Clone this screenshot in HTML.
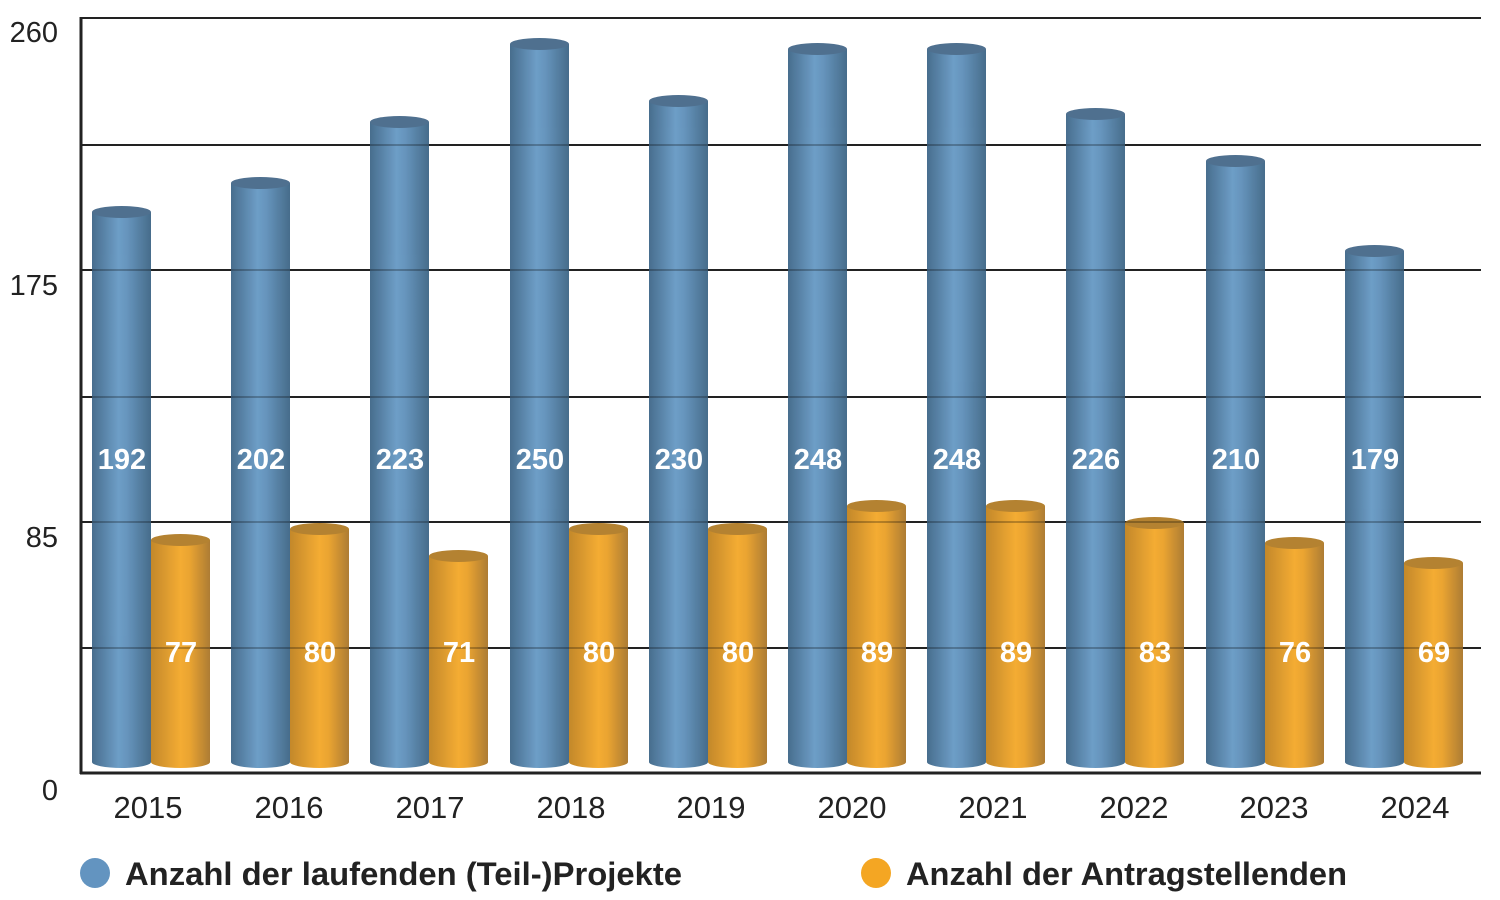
<!DOCTYPE html>
<html><head><meta charset="utf-8"><style>
html,body{margin:0;padding:0;background:#fff}
svg{display:block}
text{font-family:"Liberation Sans",sans-serif}
</style></head><body>
<svg width="1500" height="900" viewBox="0 0 1500 900">
<defs>
<linearGradient id="gb" x1="0" x2="1" y1="0" y2="0">
<stop offset="0" stop-color="#3e6688"/><stop offset="0.45" stop-color="#6699c4"/><stop offset="0.6" stop-color="#5e8fb9"/><stop offset="1" stop-color="#3d6585"/></linearGradient>
<linearGradient id="go" x1="0" x2="1" y1="0" y2="0">
<stop offset="0" stop-color="#c0821f"/><stop offset="0.5" stop-color="#f4a829"/><stop offset="0.65" stop-color="#eaa027"/><stop offset="1" stop-color="#a9762a"/></linearGradient>
</defs>
<g stroke="#222" stroke-width="2">
<line x1="80" y1="18" x2="1481" y2="18"/>
<line x1="80" y1="145" x2="1481" y2="145"/>
<line x1="80" y1="270" x2="1481" y2="270"/>
<line x1="80" y1="397" x2="1481" y2="397"/>
<line x1="80" y1="522" x2="1481" y2="522"/>
<line x1="80" y1="648" x2="1481" y2="648"/>
</g>
<g opacity="0.95">
<g fill="url(#gb)">
<rect x="92" y="212" width="59" height="550"/><rect x="231" y="183" width="59" height="579"/><rect x="370" y="122" width="59" height="640"/><rect x="510" y="44" width="59" height="718"/><rect x="649" y="101" width="59" height="661"/><rect x="788" y="49" width="59" height="713"/><rect x="927" y="49" width="59" height="713"/><rect x="1066" y="114" width="59" height="648"/><rect x="1206" y="161" width="59" height="601"/><rect x="1345" y="251" width="59" height="511"/>
<ellipse cx="121.5" cy="762" rx="29.5" ry="6"/><ellipse cx="260.5" cy="762" rx="29.5" ry="6"/><ellipse cx="399.5" cy="762" rx="29.5" ry="6"/><ellipse cx="539.5" cy="762" rx="29.5" ry="6"/><ellipse cx="678.5" cy="762" rx="29.5" ry="6"/><ellipse cx="817.5" cy="762" rx="29.5" ry="6"/><ellipse cx="956.5" cy="762" rx="29.5" ry="6"/><ellipse cx="1095.5" cy="762" rx="29.5" ry="6"/><ellipse cx="1235.5" cy="762" rx="29.5" ry="6"/><ellipse cx="1374.5" cy="762" rx="29.5" ry="6"/>
</g>
<g fill="#46698a">
<ellipse cx="121.5" cy="212" rx="29.5" ry="6"/><ellipse cx="260.5" cy="183" rx="29.5" ry="6"/><ellipse cx="399.5" cy="122" rx="29.5" ry="6"/><ellipse cx="539.5" cy="44" rx="29.5" ry="6"/><ellipse cx="678.5" cy="101" rx="29.5" ry="6"/><ellipse cx="817.5" cy="49" rx="29.5" ry="6"/><ellipse cx="956.5" cy="49" rx="29.5" ry="6"/><ellipse cx="1095.5" cy="114" rx="29.5" ry="6"/><ellipse cx="1235.5" cy="161" rx="29.5" ry="6"/><ellipse cx="1374.5" cy="251" rx="29.5" ry="6"/>
</g>
<g fill="url(#go)">
<rect x="151" y="540" width="59" height="222"/><rect x="290" y="529" width="59" height="233"/><rect x="429" y="556" width="59" height="206"/><rect x="569" y="529" width="59" height="233"/><rect x="708" y="529" width="59" height="233"/><rect x="847" y="506" width="59" height="256"/><rect x="986" y="506" width="59" height="256"/><rect x="1125" y="523" width="59" height="239"/><rect x="1265" y="543" width="59" height="219"/><rect x="1404" y="563" width="59" height="199"/>
<ellipse cx="180.5" cy="762" rx="29.5" ry="6"/><ellipse cx="319.5" cy="762" rx="29.5" ry="6"/><ellipse cx="458.5" cy="762" rx="29.5" ry="6"/><ellipse cx="598.5" cy="762" rx="29.5" ry="6"/><ellipse cx="737.5" cy="762" rx="29.5" ry="6"/><ellipse cx="876.5" cy="762" rx="29.5" ry="6"/><ellipse cx="1015.5" cy="762" rx="29.5" ry="6"/><ellipse cx="1154.5" cy="762" rx="29.5" ry="6"/><ellipse cx="1294.5" cy="762" rx="29.5" ry="6"/><ellipse cx="1433.5" cy="762" rx="29.5" ry="6"/>
</g>
<g fill="#b07c26">
<ellipse cx="180.5" cy="540" rx="29.5" ry="6"/><ellipse cx="319.5" cy="529" rx="29.5" ry="6"/><ellipse cx="458.5" cy="556" rx="29.5" ry="6"/><ellipse cx="598.5" cy="529" rx="29.5" ry="6"/><ellipse cx="737.5" cy="529" rx="29.5" ry="6"/><ellipse cx="876.5" cy="506" rx="29.5" ry="6"/><ellipse cx="1015.5" cy="506" rx="29.5" ry="6"/><ellipse cx="1154.5" cy="523" rx="29.5" ry="6"/><ellipse cx="1294.5" cy="543" rx="29.5" ry="6"/><ellipse cx="1433.5" cy="563" rx="29.5" ry="6"/>
</g>
</g>
<g stroke="#222" stroke-width="2" opacity="0.25">
<line x1="80" y1="522" x2="1481" y2="522"/><line x1="80" y1="648" x2="1481" y2="648"/><line x1="80" y1="397" x2="1481" y2="397"/><line x1="80" y1="270" x2="1481" y2="270"/><line x1="80" y1="145" x2="1481" y2="145"/>
</g>
<g stroke="#222" stroke-width="3">
<line x1="81" y1="17" x2="81" y2="774"/>
<line x1="80" y1="773" x2="1481" y2="773"/>
</g>
<g fill="#fff" font-weight="bold" font-size="29" text-anchor="middle">
<text x="122" y="469">192</text><text x="261" y="469">202</text><text x="400" y="469">223</text><text x="540" y="469">250</text><text x="679" y="469">230</text><text x="818" y="469">248</text><text x="957" y="469">248</text><text x="1096" y="469">226</text><text x="1236" y="469">210</text><text x="1375" y="469">179</text>
<text x="181" y="662">77</text><text x="320" y="662">80</text><text x="459" y="662">71</text><text x="599" y="662">80</text><text x="738" y="662">80</text><text x="877" y="662">89</text><text x="1016" y="662">89</text><text x="1155" y="662">83</text><text x="1295" y="662">76</text><text x="1434" y="662">69</text>
</g>
<g fill="#222" font-size="29" text-anchor="end">
<text x="58" y="42">260</text><text x="58" y="295">175</text><text x="58" y="547">85</text><text x="58" y="800">0</text>
</g>
<g fill="#222" font-size="31" text-anchor="middle">
<text x="148" y="818">2015</text><text x="289" y="818">2016</text><text x="430" y="818">2017</text><text x="571" y="818">2018</text><text x="711" y="818">2019</text><text x="852" y="818">2020</text><text x="993" y="818">2021</text><text x="1134" y="818">2022</text><text x="1274" y="818">2023</text><text x="1415" y="818">2024</text>
</g>
<circle cx="95" cy="873" r="15" fill="#6394c0"/>
<circle cx="876" cy="873" r="15" fill="#f4a623"/>
<g fill="#222" font-size="32" font-weight="bold">
<text x="125" y="885" textLength="557" lengthAdjust="spacingAndGlyphs">Anzahl der laufenden (Teil-)Projekte</text>
<text x="906" y="885" textLength="441" lengthAdjust="spacingAndGlyphs">Anzahl der Antragstellenden</text>
</g>
</svg>
</body></html>
